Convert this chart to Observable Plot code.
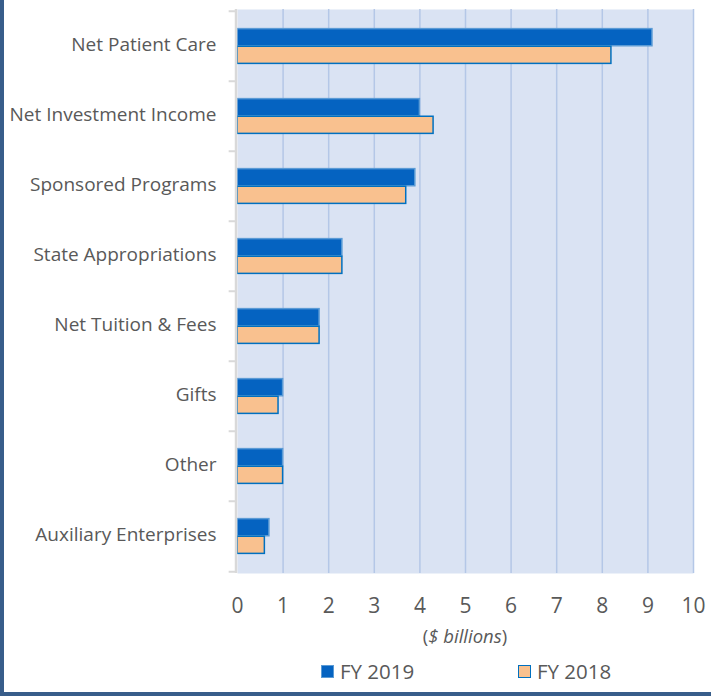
<!DOCTYPE html>
<html><head><meta charset="utf-8">
<script src="https://cdn.jsdelivr.net/npm/d3@7"></script>
<script src="https://cdn.jsdelivr.net/npm/@observablehq/plot@0.6"></script>
<style>
body{margin:0;background:#fff;}
#wrap{position:relative;width:711px;height:696px;overflow:hidden;font-family:"Open Sans",sans-serif;color:#595959;background:#fff;}
#chart{position:absolute;left:0;top:0;}
#xlabel{position:absolute;left:315px;width:300px;top:623px;text-align:center;font-size:18.5px;line-height:26px;}
#xlabel i{font-style:italic;}
.lg{position:absolute;top:657px;font-size:20.5px;line-height:28px;display:flex;align-items:center;}
.sw{width:11px;height:11px;margin-right:6px;box-sizing:content-box;}
.bl{position:absolute;left:0;top:0;width:4px;height:696px;background:#385d8a;}
.bb{position:absolute;left:0;bottom:0;width:711px;height:4px;background:#385d8a;}
</style></head><body>
<div id="wrap">
<div id="chart"></div>
<div id="xlabel">(<i>$ billions</i>)</div>
<div id="legend"></div>
<div class="bl"></div><div class="bb"></div>
</div>
<script>
const categories = ["Net Patient Care","Net Investment Income","Sponsored Programs","State Appropriations","Net Tuition & Fees","Gifts","Other","Auxiliary Enterprises"];
const fy2019 = [9.1, 4.0, 3.9, 2.3, 1.8, 1.0, 1.0, 0.7];
const fy2018 = [8.2, 4.3, 3.7, 2.3, 1.8, 0.9, 1.0, 0.6];
const xTicks = [0,1,2,3,4,5,6,7,8,9,10];
const seriesNames = ["FY 2019","FY 2018"];
const seriesFill = ["#0563c1","#f9c18f"];
const seriesStroke = ["#5b9bd5","#0070c0"];

const d19 = categories.map((c,i)=>({category:c, value:fy2019[i]}));
const d18 = categories.map((c,i)=>({category:c, value:fy2018[i]}));
const half = 70.5/2, quarter = 70.5/4;

const plot = Plot.plot({
  width:711, height:620,
  marginLeft:237, marginRight:18, marginTop:9, marginBottom:47,
  style:{fontFamily:"'Open Sans', sans-serif", color:"#595959", background:"transparent", overflow:"visible"},
  x:{domain:[0,10], axis:null, label:null},
  y:{domain:categories, padding:0, axis:null, label:null},
  marks:[
    Plot.frame({fill:"#dae3f3", stroke:null}),
    Plot.ruleX(xTicks.slice(1), {stroke:"#b4c7e7", strokeWidth:1.5}),
    Plot.barX(d19, {x:"value", y:"category", fill:seriesFill[0], stroke:seriesStroke[0], strokeWidth:1.5, insetTop:quarter, insetBottom:half}),
    Plot.barX(d18, {x:"value", y:"category", fill:seriesFill[1], stroke:seriesStroke[1], strokeWidth:1.5, insetTop:half, insetBottom:quarter}),
    Plot.ruleX([0], {stroke:"#d9d9d9", strokeWidth:2.5, dx:-1.5}),
    Plot.ruleY(categories, {x1:-0.15, x2:0, dx:-1.5, dy:-half, stroke:"#d9d9d9", strokeWidth:2}),
    Plot.ruleY(categories.slice(-1), {x1:-0.15, x2:0, dx:-1.5, dy:half, stroke:"#d9d9d9", strokeWidth:2}),
    Plot.axisX(xTicks, {tickSize:0, tickPadding:25, fontSize:21, fill:"#595959", label:null}),
    Plot.axisY(categories, {tickSize:0, tickPadding:21, dy:-2, fontSize:19, fill:"#595959", label:null})
  ]
});
document.getElementById("chart").append(plot);

const lg = document.getElementById("legend");
const lgLeft = [321, 518];
seriesNames.forEach((s,i)=>{
  const el = document.createElement("div");
  el.className = "lg";
  el.style.left = lgLeft[i] + "px";
  el.innerHTML = `<span class="sw" style="background:${seriesFill[i]};border:1.5px solid ${seriesStroke[i]}"></span><span>${s}</span>`;
  lg.append(el);
});
</script>
</body></html>
